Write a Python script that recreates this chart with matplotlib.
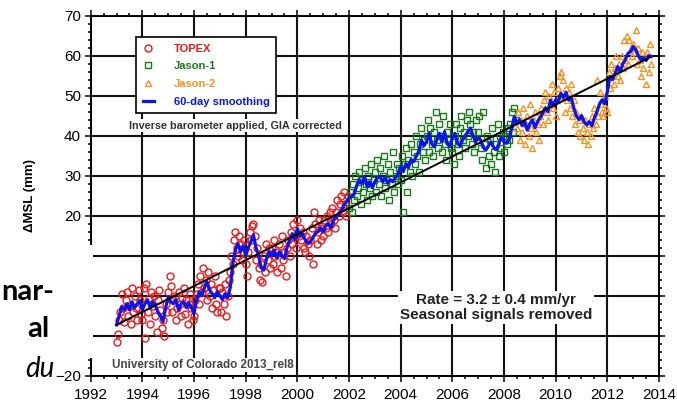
import matplotlib.pyplot as plt
from matplotlib.lines import Line2D
from matplotlib.patches import Rectangle
from matplotlib.ticker import MultipleLocator
import numpy as np

plt.rcParams['font.family'] = ['Liberation Sans', 'DejaVu Sans']

# altimeter values (mm), one every 0.05 yr
topex_start, topex_end = 1993.0, 2001.95
topex_mm = [
    -11.5, -9.5, -6, -4, 0.5, -3, -6.5, -1, 1, -5, -2.5, -7, 2, -4, 0, -3, -6, 1.5, -1, -4.5,
    -6, 2, -10.5, 3, -4, -0.5, -7, 1, -2.5, 0, -5, -9, -1, 1.5, -3.5, -8, -6, -10, -2, -4,
    1, 5, 2.5, -4, -1, 0, -6, -3, 1, -2, -5, -0.5, 2, -4.5, -1, -7, -2, 0.5, -3, -6,
    -5, -1, 0.5, 3, -2, 5, 1, 7, 2, 4, -1, 6, 0, 3, -3, 1.5, 5, -2, -4, 2,
    2, -4, 1, -2, 3, -5, 0, 4, 6, 10, 8, 14, 16, 12, 10, 15, 13, 9, 11, 14,
    8, 5, 11, 16, 14, 17.5, 18, 15, 9, 12, 7, 4, 8, 3.5, 10, 6, 13, 9, 12, 7,
    12, 8, 14, 10, 6, 11, 13, 7, 15, 9, 11, 5, 12, 14, 10, 16, 13, 18, 15, 12,
    19, 15, 17, 14, 16, 12, 11, 15, 13, 10, 14, 17, 8, 21, 18, 13, 16, 19, 14, 17,
    15, 19, 17, 20, 16, 21, 18, 22, 19, 17, 21, 24, 20, 23, 25, 21, 26, 23, 20, 25,
]
jason1_start, jason1_end = 2002.0, 2008.45
jason1_mm = [
    22, 26, 21, 28, 24, 30, 25, 27, 31, 23, 29, 26, 32, 28, 24, 30, 27, 33, 25, 29,
    31, 26, 34, 28, 32, 25, 30, 35, 27, 29, 33, 24, 31, 28, 36, 26, 30, 33, 28, 32,
    29, 35, 21, 33, 37, 26, 34, 31, 38, 30, 36, 33, 40, 35, 31, 38, 42, 36, 39, 34,
    40, 44, 36, 42, 38, 35, 41, 46, 39, 37, 43, 40, 36, 45, 38, 34, 41, 39, 43, 37,
    36, 33, 40, 43, 38, 35, 42, 45, 39, 41, 37, 44, 40, 46, 43, 38, 41, 36, 44, 39,
    41, 45, 37, 34, 46, 38, 32, 40, 35, 39, 33, 42, 36, 31, 38, 43, 35, 40, 37, 41,
    36, 40, 38, 42, 39, 43, 46, 41, 47, 44,
]
jason2_start, jason2_end = 2008.5, 2013.7
jason2_mm = [
    42, 46, 39, 44, 41, 47, 38, 43, 45, 40, 48, 42, 37, 44, 46, 41, 43, 39, 45, 47,
    43, 49, 51, 46, 44, 50, 48, 53, 47, 51, 45, 49, 52, 55, 56, 50, 54, 46, 52, 49,
    51, 47, 53, 45, 49, 43, 46, 41, 44, 40, 45, 42, 39, 44, 41, 38, 43, 40, 45, 42,
    47, 43, 54, 45, 51, 48, 46, 45, 50, 47, 46, 56, 52, 58, 55, 53, 57, 60, 55, 58,
    54, 60, 57, 64, 59, 65, 58, 64, 62, 60, 63, 61, 66.5, 58, 62, 59, 55, 61, 57, 60,
    53, 61, 56, 63, 58,
]

# 60-day smoothing, one value every 0.1 yr
smooth_start, smooth_end = 1993.0, 2013.7
smooth_mm = [
    -7.3, -5, -2.8, -3.5, -2, -3.5, -1.5, -3, -2, -1.2,
    -3.5, -2, -1, -3, -1.5, -2.5, -4, -5, -6.5, -3,
    -0.3, -1.5, -2, -1, -3.6, -2, -1.5, -3, -1.8, -3,
    -4.4, -1, 1, 0, 2, 3.5, 1.5, 0.5, -0.5, 1,
    0, -1, 0.5, -0.5, 2, 8, 11.5, 13, 11, 12.5,
    10, 12, 13.5, 15.2, 12, 10, 7, 6.4, 9, 11,
    10, 11.4, 9.5, 11, 10, 9.3, 12, 14, 15.5, 14,
    16.8, 15, 15.5, 14, 13, 13.5, 14.5, 15.6, 16, 17,
    16, 17.5, 18, 17, 18.9, 19.5, 20.5, 21.4, 22.5, 23.5,
    24.5, 24.8, 25.5, 27.5, 29, 28, 29.8, 27.3, 28.5, 27,
    28.5, 29.5, 29.8, 28.5, 29.5, 28.1, 29, 28.5, 29.5, 30.5,
    32.3, 31, 33, 32, 34, 33.5, 34.8, 36, 38.9, 37.5,
    38.5, 40.6, 38, 37.3, 39, 40.6, 38.5, 41, 38, 37.3,
    39.5, 40.6, 38, 37.5, 39, 40, 41, 41.9, 40, 38.5,
    39.5, 38.9, 37, 36.4, 37.5, 38.5, 37, 36.5, 38, 39.7,
    38.5, 38.1, 39, 42, 44.8, 43, 44, 42.5, 43.5, 41.4,
    43, 44, 42, 43.5, 44.5, 45.6, 47, 46, 48.9, 47.5,
    49, 48.5, 50.6, 49.5, 50.8, 48.9, 49.5, 47, 45, 44,
    45, 43.5, 42.7, 43.5, 42.5, 44.5, 46, 48, 49, 48,
    51, 54.8, 54, 55.5, 57.3, 56, 58, 59, 60.6, 61,
    62.3, 61.5, 60, 59, 59.5, 58.8, 60, 59.8,
]

trend_years = [1993.0, 2013.65]
trend_mm = [-7.3, 59.6]

labels = ['TOPEX', 'Jason-1', 'Jason-2', '60-day smoothing']
red, green, orange, blue = '#f01818', '#1a7a1a', '#f7921e', '#0a14f0'

t_topex = np.linspace(topex_start, topex_end, len(topex_mm))
t_j1 = np.linspace(jason1_start, jason1_end, len(jason1_mm))
t_j2 = np.linspace(jason2_start, jason2_end, len(jason2_mm))
t_smooth = np.linspace(smooth_start, smooth_end, len(smooth_mm))

fig, ax = plt.subplots(figsize=(6.77, 4.03), dpi=100)
fig.subplots_adjust(left=0.134, right=0.9734, bottom=0.0677, top=0.961)

ms = 5.0
ax.plot(t_topex, topex_mm, 'o', ms=ms, mfc='none', mec=red, mew=1.0, zorder=3)
ax.plot(t_j1, jason1_mm, 's', ms=ms - 0.5, mfc='none', mec=green, mew=1.0, zorder=3)
ax.plot(t_j2, jason2_mm, '^', ms=ms, mfc='none', mec=orange, mew=1.0, zorder=3)
ax.plot(t_smooth, smooth_mm, '-', color=blue, lw=2.3, zorder=4)
ax.plot(trend_years, trend_mm, '-', color='black', lw=1.4, zorder=5)

ax.set_xlim(1992, 2014)
ax.set_ylim(-20, 70)
ax.xaxis.set_major_locator(MultipleLocator(2))
ax.xaxis.set_minor_locator(MultipleLocator(0.5))
ax.yaxis.set_major_locator(MultipleLocator(10))
ax.yaxis.set_minor_locator(MultipleLocator(2))
ax.set_axisbelow(True)
ax.grid(True, which='major', color='#111111', lw=1.5)
for s in ax.spines.values():
    s.set_linewidth(1.4)
ax.tick_params(which='both', direction='out', top=True, right=True, width=1.1)
ax.tick_params(which='major', length=4.5, labelsize=11, pad=2.5)
ax.tick_params(which='minor', length=2.5)
ax.tick_params(axis='x', pad=4)

ax.set_ylabel('\u0394MSL (mm)', fontsize=9.5, fontweight='bold')
ax.yaxis.set_label_coords(-0.097, 0.5)

handles = [
    Line2D([], [], marker='o', ls='none', ms=ms, mfc='none', mec=red, mew=1.0),
    Line2D([], [], marker='s', ls='none', ms=ms - 0.5, mfc='none', mec=green, mew=1.0),
    Line2D([], [], marker='^', ls='none', ms=ms, mfc='none', mec=orange, mew=1.0),
    Line2D([], [], color=blue, lw=2.3),
]
leg = ax.legend(handles, labels, loc='upper left', bbox_to_anchor=(0.0797, 0.941),
                borderaxespad=0, fancybox=False, framealpha=1, edgecolor='black',
                prop={'weight': 'bold', 'size': 8}, labelcolor=[red, green, orange, blue],
                handlelength=1.0, handletextpad=1.8, labelspacing=0.69, borderpad=0.6)
leg.get_frame().set_linewidth(1.2)
leg.set_zorder(6)

ax.text(0.068, 0.695, 'Inverse barometer applied, GIA corrected', transform=ax.transAxes,
        fontsize=7.8, fontweight='bold', color='#333333', va='center', zorder=6,
        bbox=dict(facecolor='white', edgecolor='none', pad=1))
ax.text(0.713, 0.19, 'Rate = 3.2 \u00b1 0.4 mm/yr\nSeasonal signals removed',
        transform=ax.transAxes, fontsize=11, fontweight='bold', color='#222222',
        ha='center', va='center', multialignment='center', linespacing=1.05, zorder=6,
        bbox=dict(facecolor='white', edgecolor='none', pad=1.5))
ax.text(0.0375, 0.03, 'University of Colorado 2013_rel8', transform=ax.transAxes,
        fontsize=8.4, fontweight='bold', color='#444444', va='center', zorder=6,
        bbox=dict(facecolor='white', edgecolor='none', pad=1))

# slide overlay on the left
fig.add_artist(Rectangle((0, 1 - 358 / 403), 93 / 677, 113 / 403, transform=fig.transFigure,
                         facecolor='white', edgecolor='none', zorder=10))
slide_font = ['Lato', 'DejaVu Sans']
fig.text(54 / 677, 1 - 300 / 403, 'nar-', ha='right', va='baseline', fontsize=21,
         fontweight='bold', family=slide_font, zorder=11)
fig.text(50 / 677, 1 - 337 / 403, 'al', ha='right', va='baseline', fontsize=21,
         fontweight='bold', family=slide_font, zorder=11)
fig.text(55 / 677, 1 - 377 / 403, 'du', ha='right', va='baseline', fontsize=20,
         style='italic', family=slide_font, zorder=11)

fig.savefig('out.png', dpi=100)
